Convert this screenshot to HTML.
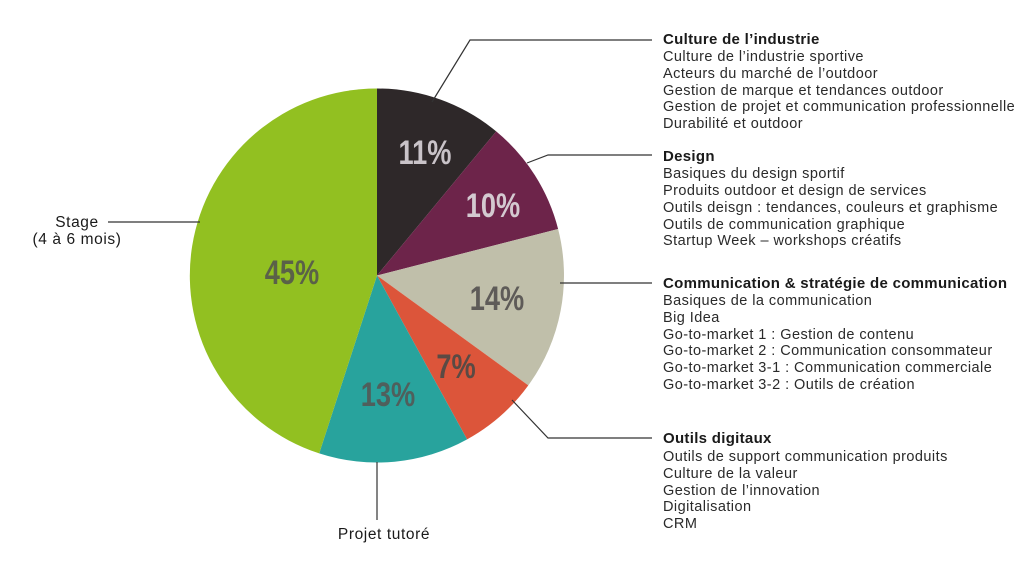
<!DOCTYPE html>
<html><head><meta charset="utf-8"><style>
html,body{margin:0;padding:0;background:#fff;}
svg{display:block;}
.h{font:bold 15px "Liberation Sans",sans-serif;fill:#1a1a1a;letter-spacing:0.3px;}
.t{font:14.5px "Liberation Sans",sans-serif;fill:#2a2a2a;letter-spacing:0.45px;}
.l{font:15.5px "Liberation Sans",sans-serif;fill:#1a1a1a;letter-spacing:0.6px;text-anchor:middle;}
.p{font:bold 34px "Liberation Sans",sans-serif;text-anchor:middle;}
</style></head><body>
<svg width="1024" height="566" viewBox="0 0 1024 566">
<path d="M377,275.5 L377,88.5 A187,187 0 0 1 496.2,131.4 Z" fill="#2e2829"/>
<path d="M377,275.5 L496.2,131.4 A187,187 0 0 1 558.1,229 Z" fill="#6d244a"/>
<path d="M377,275.5 L558.1,229 A187,187 0 0 1 528.3,385.4 Z" fill="#c0bfaa"/>
<path d="M377,275.5 L528.3,385.4 A187,187 0 0 1 467.1,439.4 Z" fill="#dc553a"/>
<path d="M377,275.5 L467.1,439.4 A187,187 0 0 1 319.2,453.4 Z" fill="#28a39d"/>
<path d="M377,275.5 L319.2,453.4 A187,187 0 0 1 377,88.5 Z" fill="#92c021"/>
<g class="p">
<text transform="translate(425,164) scale(0.8,1)" fill="#c9c3c8">11%</text>
<text transform="translate(493,217) scale(0.8,1)" fill="#d4c9d0">10%</text>
<text transform="translate(497,310) scale(0.8,1)" fill="#5e5b58">14%</text>
<text transform="translate(456,378) scale(0.8,1)" fill="#5a4a44">7%</text>
<text transform="translate(388,406) scale(0.8,1)" fill="#4f5f5c">13%</text>
<text transform="translate(292,284) scale(0.8,1)" fill="#5a6148">45%</text>
</g>
<g stroke="#333" stroke-width="1.2" fill="none">
<polyline points="432,102 470,40 652,40"/>
<polyline points="527,163 548,155 652,155"/>
<polyline points="560,283 652,283"/>
<polyline points="512,400 548,438 652,438"/>
<polyline points="108,222 200,222"/>
<polyline points="377,462 377,520"/>
</g>
<text class="h" x="663" y="44">Culture de l’industrie</text>
<text class="t" x="663" y="61">Culture de l’industrie sportive</text>
<text class="t" x="663" y="78">Acteurs du marché de l’outdoor</text>
<text class="t" x="663" y="95">Gestion de marque et tendances outdoor</text>
<text class="t" x="663" y="111">Gestion de projet et communication professionnelle</text>
<text class="t" x="663" y="128">Durabilité et outdoor</text>
<text class="h" x="663" y="161">Design</text>
<text class="t" x="663" y="178">Basiques du design sportif</text>
<text class="t" x="663" y="195">Produits outdoor et design de services</text>
<text class="t" x="663" y="212">Outils deisgn : tendances, couleurs et graphisme</text>
<text class="t" x="663" y="229">Outils de communication graphique</text>
<text class="t" x="663" y="245">Startup Week – workshops créatifs</text>
<text class="h" x="663" y="288">Communication &amp; stratégie de communication</text>
<text class="t" x="663" y="305">Basiques de la communication</text>
<text class="t" x="663" y="322">Big Idea</text>
<text class="t" x="663" y="339">Go-to-market 1 : Gestion de contenu</text>
<text class="t" x="663" y="355">Go-to-market 2 : Communication consommateur</text>
<text class="t" x="663" y="372">Go-to-market 3-1 : Communication commerciale</text>
<text class="t" x="663" y="389">Go-to-market 3-2 : Outils de création</text>
<text class="h" x="663" y="443">Outils digitaux</text>
<text class="t" x="663" y="461">Outils de support communication produits</text>
<text class="t" x="663" y="478">Culture de la valeur</text>
<text class="t" x="663" y="495">Gestion de l’innovation</text>
<text class="t" x="663" y="511">Digitalisation</text>
<text class="t" x="663" y="528">CRM</text>
<text class="l" x="77" y="227">Stage</text>
<text class="l" x="77" y="244">(4 à 6 mois)</text>
<text class="l" x="384" y="539">Projet tutoré</text>
</svg>
</body></html>
